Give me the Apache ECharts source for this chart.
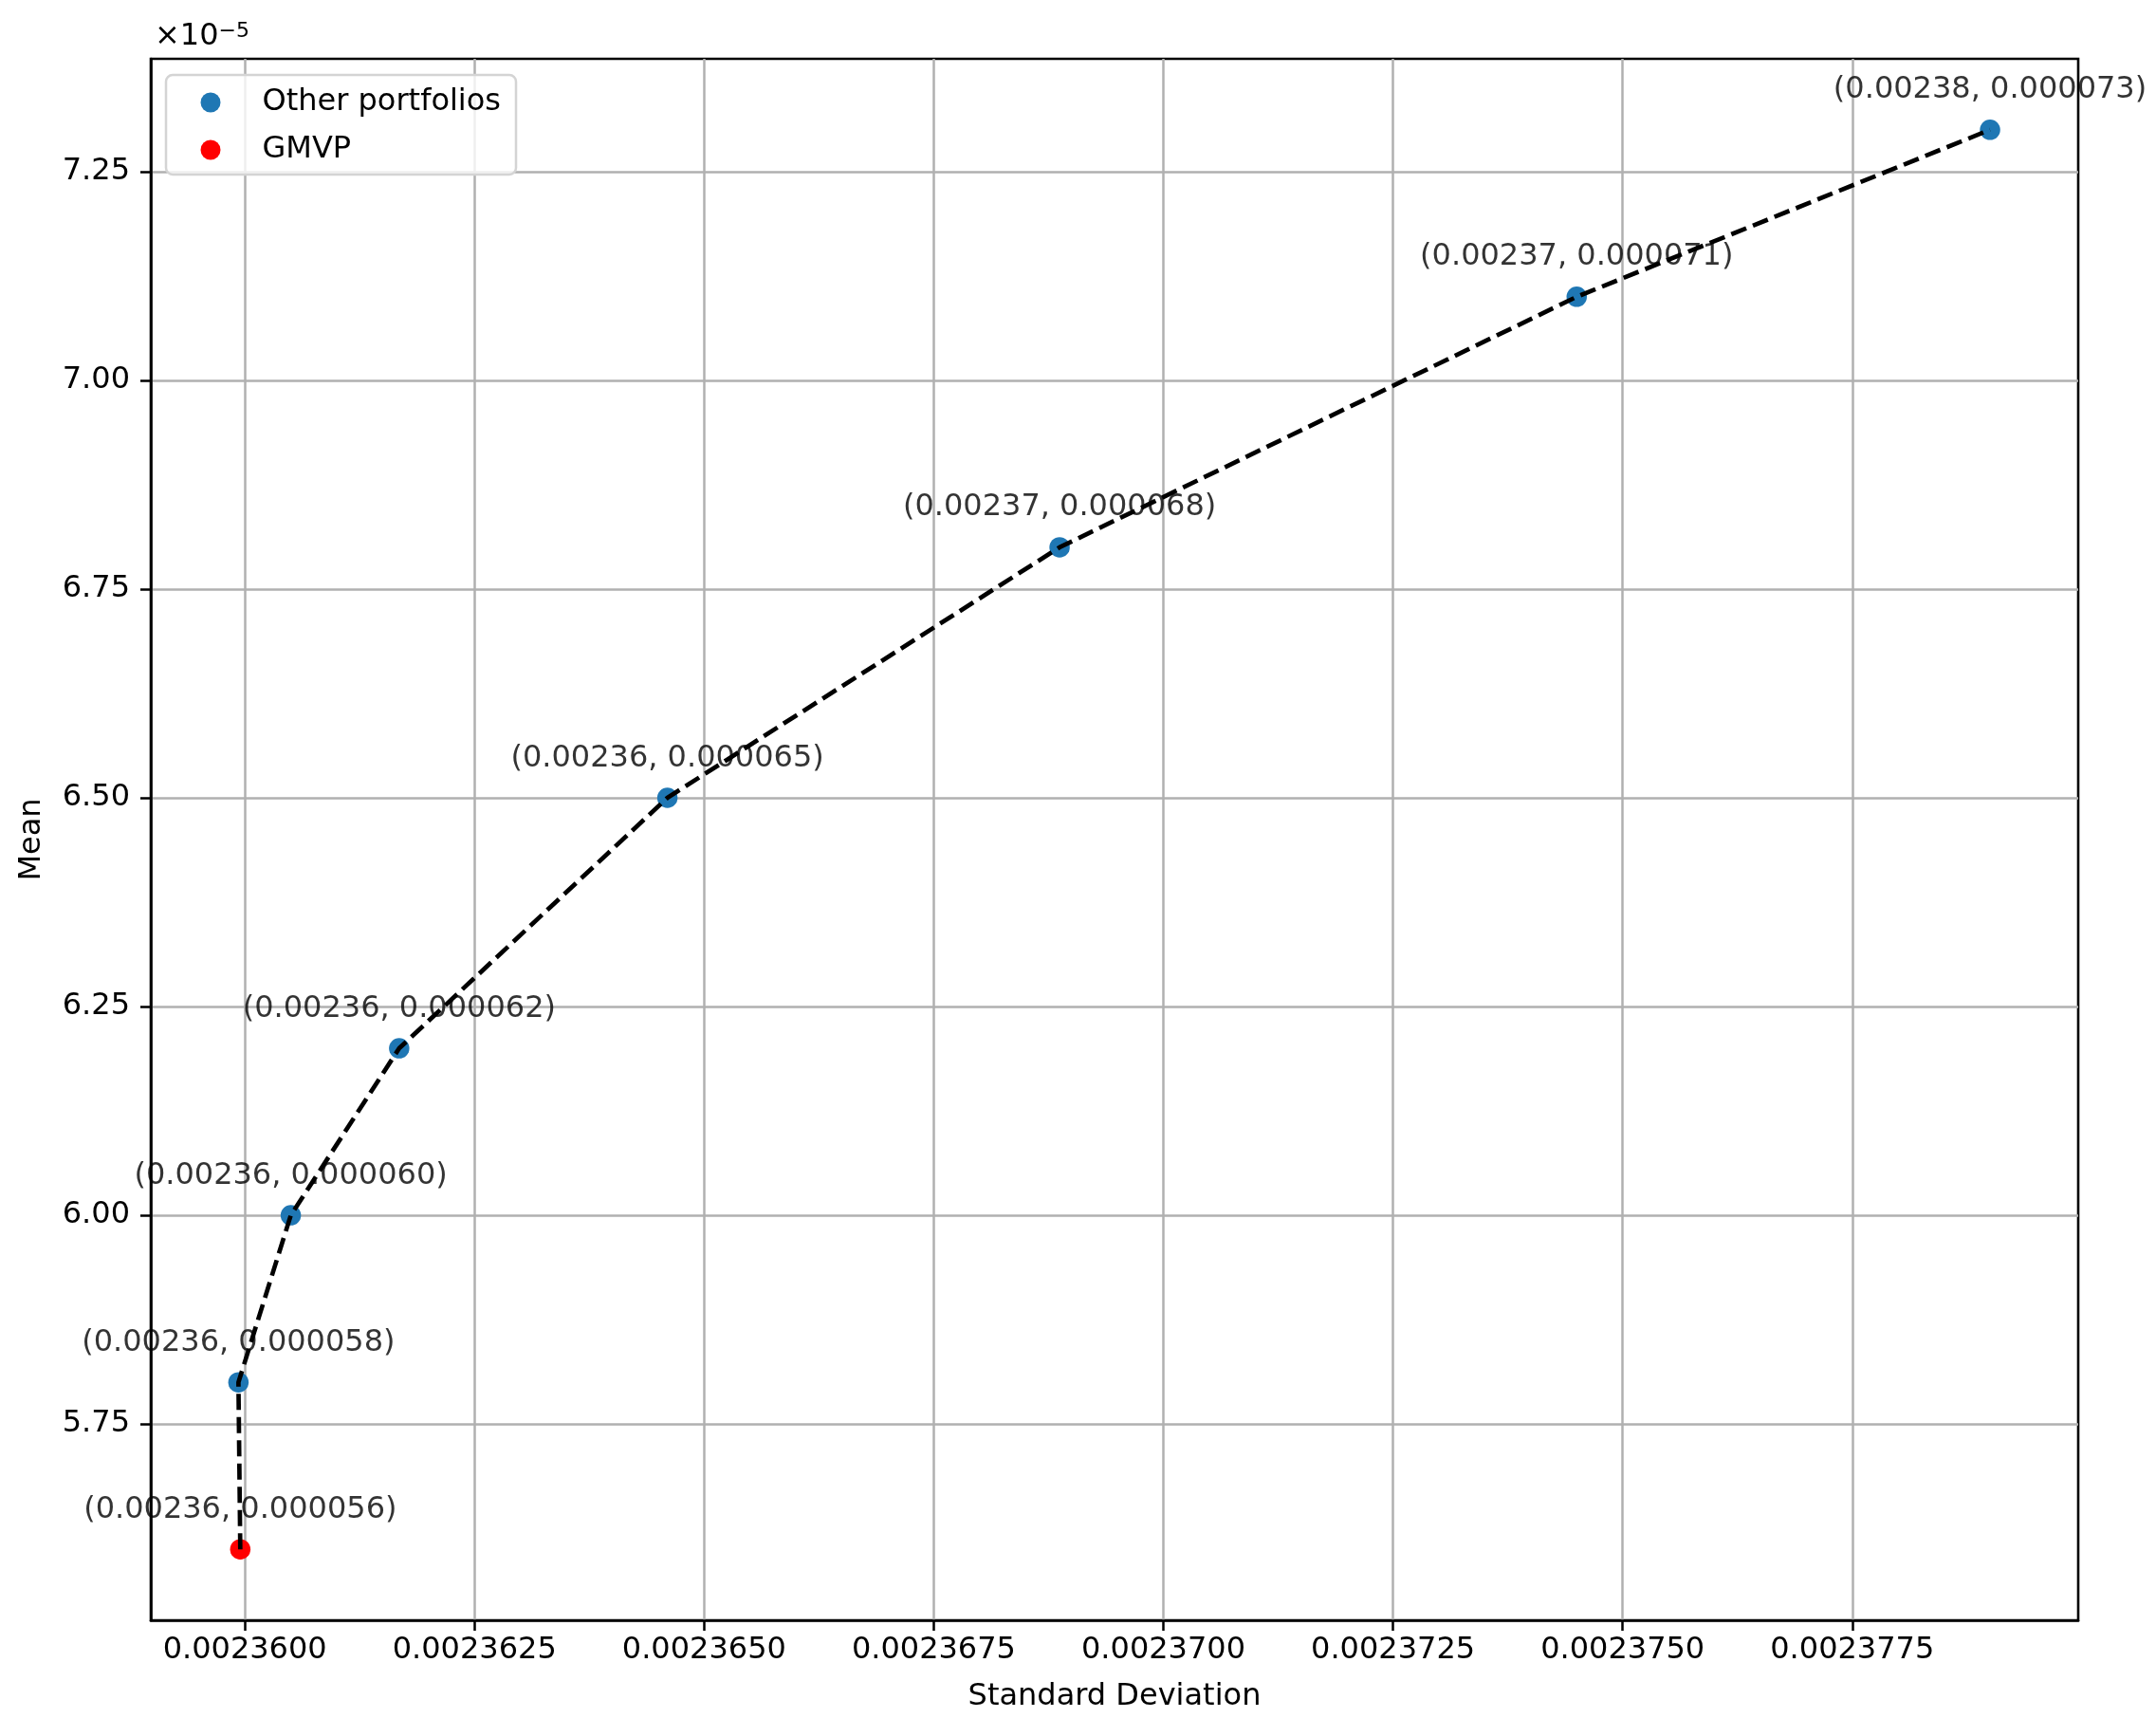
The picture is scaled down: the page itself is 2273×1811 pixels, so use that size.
<!DOCTYPE html>
<html>
<head>
<meta charset="utf-8">
<script src="https://cdn.jsdelivr.net/npm/echarts@6/dist/echarts.min.js"></script>
<style>
  html, body { margin: 0; padding: 0; background: #ffffff; }
  #chart { width: 2273px; height: 1811px; }
</style>
</head>
<body>
<div id="chart"></div>
<script>
// ---- data ----
const seriesNames = ['Other portfolios', 'GMVP'];
// index 0 is the GMVP, the rest are the other portfolios along the frontier
const stdDevs = [0.00235995, 0.00235993, 0.0023605, 0.00236168, 0.0023646, 0.00236887, 0.0023745, 0.002379];
const means   = [0.000056, 0.000058, 0.000060, 0.000062, 0.000065, 0.000068, 0.000071, 0.000073];
const xTicks = [0.00236, 0.0023625, 0.002365, 0.0023675, 0.00237, 0.0023725, 0.002375, 0.0023775];
const yTicks = [5.75e-5, 6.0e-5, 6.25e-5, 6.5e-5, 6.75e-5, 7.0e-5, 7.25e-5];
const xLabel = 'Standard Deviation';
const yLabel = 'Mean';
const yOffsetText = '×10{sup|−5}';

// ---- build ----
const FONT = 'DejaVu Sans';
const FS = 32;
const MARK = 21.5;
const allPts = stdDevs.map((x, i) => [x, means[i]]);
const gmvpPts = [allPts[0]];
const otherPts = allPts.slice(1);
const Y_MIN = 5.515e-5, Y_MAX = 7.385e-5;

const chart = echarts.init(document.getElementById('chart'), null, { renderer: 'canvas' });
chart.setOption({
  animation: false,
  backgroundColor: '#ffffff',
  textStyle: { fontFamily: FONT },
  grid: {
    left: 159, top: 62, width: 2032, height: 1646,
    show: true, borderColor: '#000000', borderWidth: 2.6,
    backgroundColor: 'transparent',
    outerBoundsMode: 'none', containLabel: false
  },
  legend: {
    orient: 'vertical',
    left: 175, top: 79,
    padding: [13, 16, 10, 36.5],
    itemGap: 18,
    itemWidth: 21, itemHeight: 21,
    icon: 'circle',
    backgroundColor: 'rgba(255,255,255,0.8)',
    borderColor: '#d4d4d4', borderWidth: 2.5, borderRadius: 7,
    data: seriesNames,
    textStyle: { fontFamily: FONT, fontSize: FS, color: '#000000', padding: [0, 0, 0, 39] }
  },
  xAxis: {
    type: 'value',
    min: 0.002358976, max: 0.00237996,
    scale: true,
    name: xLabel,
    nameLocation: 'middle',
    nameGap: 65,
    nameTextStyle: { fontFamily: FONT, fontSize: FS, color: '#000000' },
    axisLine: { show: true, onZero: false, lineStyle: { color: '#000000', width: 2.6 } },
    axisTick: { show: true, inside: false, length: 11, customValues: xTicks, lineStyle: { color: '#000000', width: 2.5 } },
    axisLabel: {
      show: true, margin: 16, customValues: xTicks,
      fontFamily: FONT, fontSize: FS, color: '#000000',
      formatter: v => v.toFixed(7)
    },
    splitLine: { show: true, lineStyle: { color: '#b0b0b0', width: 2.5 } }
  },
  yAxis: [
    {
      type: 'value',
      min: Y_MIN, max: Y_MAX,
      scale: true,
      name: yLabel,
      nameLocation: 'middle',
      nameGap: 109,
      nameTextStyle: { fontFamily: FONT, fontSize: FS, color: '#000000' },
      axisLine: { show: true, onZero: false, lineStyle: { color: '#000000', width: 2.6 } },
      axisTick: { show: true, inside: false, length: 11, customValues: yTicks, lineStyle: { color: '#000000', width: 2.5 } },
      axisLabel: {
        show: true, margin: 22, customValues: yTicks,
        fontFamily: FONT, fontSize: FS, color: '#000000',
        formatter: v => (v * 1e5).toFixed(2)
      },
      splitLine: { show: true, lineStyle: { color: '#b0b0b0', width: 2.5 } }
    },
    {
      // carries only the "×10^-5" offset text above the left axis
      type: 'value',
      position: 'left',
      min: Y_MIN, max: Y_MAX,
      name: yOffsetText,
      nameLocation: 'end',
      nameGap: 6,
      nameTextStyle: {
        fontFamily: FONT, fontSize: FS, color: '#000000',
        align: 'left', verticalAlign: 'bottom', padding: [0, 0, 0, 4],
        rich: { sup: { fontFamily: FONT, fontSize: 22, color: '#000000', verticalAlign: 'top', padding: [0, 0, 12, 0] } }
      },
      axisLine: { show: false },
      axisTick: { show: false },
      axisLabel: { show: false },
      splitLine: { show: false }
    }
  ],
  series: [
    {
      name: seriesNames[0],
      type: 'scatter',
      yAxisIndex: 0,
      data: otherPts,
      symbol: 'circle',
      symbolSize: MARK,
      itemStyle: { color: '#1f77b4', opacity: 1 },
      z: 2
    },
    {
      name: seriesNames[1],
      type: 'scatter',
      yAxisIndex: 0,
      data: gmvpPts,
      symbol: 'circle',
      symbolSize: MARK,
      itemStyle: { color: '#ff0000', opacity: 1 },
      z: 2
    },
    {
      name: 'frontier',
      type: 'line',
      yAxisIndex: 0,
      data: allPts,
      showSymbol: false,
      symbol: 'none',
      smooth: false,
      lineStyle: { color: '#000000', width: 4.7, type: [17, 7.5], cap: 'butt' },
      z: 3,
      silent: true
    },
    {
      name: 'annotations',
      type: 'scatter',
      yAxisIndex: 0,
      data: allPts,
      symbolSize: MARK,
      itemStyle: { color: 'rgba(0,0,0,0)' },
      z: 5,
      silent: true,
      label: {
        show: true,
        position: 'top',
        distance: 15,
        fontFamily: FONT, fontSize: FS, color: '#000000',
        formatter: p => '(' + p.value[0].toFixed(5) + ', ' + p.value[1].toFixed(6) + ')'
      }
    }
  ]
});
</script>
</body>
</html>
